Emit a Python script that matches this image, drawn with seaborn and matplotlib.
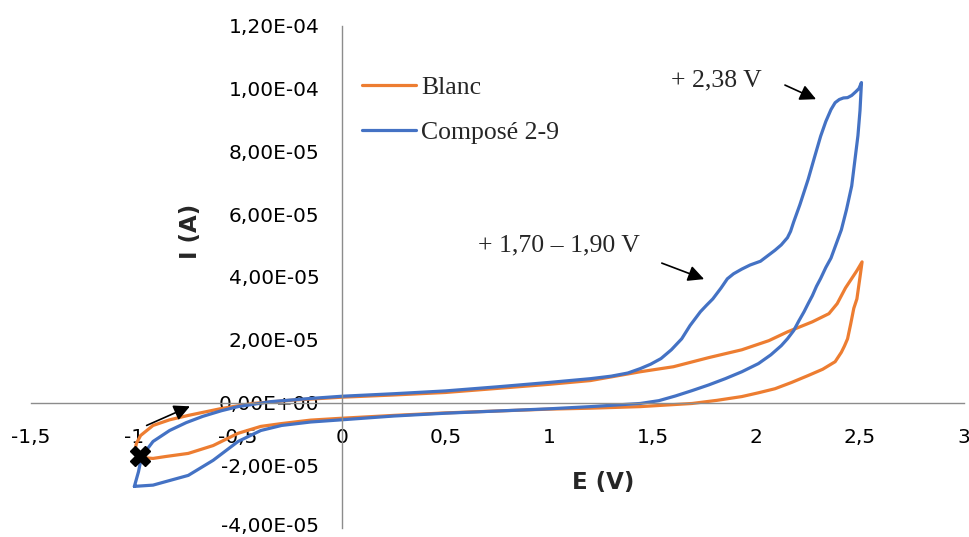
import matplotlib
matplotlib.use("Agg")
import matplotlib.pyplot as plt
from matplotlib.ticker import FuncFormatter, MultipleLocator
from matplotlib.transforms import ScaledTranslation
import pandas as pd
import seaborn as sns
import numpy as np

# cyclic voltammograms, I in units of 1e-5 A
blanc_E = [-1.0, -0.99, -0.97, -0.91, -0.83, -0.74, -0.58, -0.43, -0.25, 0.0, 0.25, 0.5, 0.75, 1.0, 1.2,
           1.44, 1.60, 1.77, 1.93, 2.06, 2.15, 2.27, 2.35, 2.39, 2.43, 2.46, 2.485, 2.51,
           2.50, 2.485, 2.47, 2.455, 2.44, 2.425, 2.41, 2.395, 2.38, 2.32, 2.25, 2.17, 2.09, 2.01, 1.93,
           1.81, 1.69, 1.44, 1.2, 1.0, 0.75, 0.5, 0.25, 0.0,
           -0.15, -0.29, -0.39, -0.5, -0.62, -0.74, -0.85, -0.91, -0.97]
blanc_I = [-1.6, -1.3, -1.05, -0.73, -0.55, -0.41, -0.19, -0.03, 0.07, 0.17, 0.24, 0.32, 0.45, 0.58, 0.7,
           0.98, 1.14, 1.43, 1.68, 1.97, 2.25, 2.57, 2.83, 3.15, 3.65, 3.95, 4.2, 4.48,
           4.0, 3.3, 3.0, 2.5, 2.03, 1.8, 1.6, 1.45, 1.3, 1.06, 0.86, 0.64, 0.44, 0.31, 0.19,
           0.07, -0.03, -0.13, -0.18, -0.21, -0.27, -0.33, -0.41, -0.5,
           -0.56, -0.67, -0.76, -0.98, -1.37, -1.62, -1.72, -1.78, -1.75]

compose_E = [-1.0, -0.98, -0.97, -0.94, -0.91, -0.83, -0.75, -0.67, -0.58, -0.5, -0.34, -0.15, 0.0, 0.25, 0.5,
             0.75, 1.0, 1.2, 1.3, 1.38, 1.44, 1.49, 1.54, 1.59, 1.64, 1.68, 1.73, 1.76, 1.79, 1.83, 1.86,
             1.89, 1.93, 1.97, 2.02, 2.05, 2.09, 2.12, 2.15, 2.165, 2.18, 2.21, 2.25, 2.28, 2.31, 2.335,
             2.36, 2.38, 2.40, 2.42, 2.44, 2.46, 2.48, 2.495, 2.507,
             2.50, 2.49, 2.475, 2.46, 2.435, 2.41, 2.385, 2.36, 2.335, 2.31, 2.29, 2.27, 2.25, 2.23,
             2.205, 2.18, 2.15, 2.12, 2.07, 2.01, 1.93, 1.85, 1.77, 1.69, 1.61, 1.53, 1.44, 1.2, 1.0,
             0.75, 0.5, 0.25, 0.0, -0.15, -0.29, -0.39, -0.5, -0.62, -0.74, -0.85, -0.91, -1.0]
compose_I = [-2.67, -2.2, -1.87, -1.5, -1.24, -0.89, -0.64, -0.44, -0.26, -0.13, 0.03, 0.13, 0.2, 0.28, 0.37,
             0.5, 0.64, 0.76, 0.84, 0.94, 1.08, 1.22, 1.4, 1.68, 2.03, 2.45, 2.89, 3.1, 3.3, 3.65, 3.94,
             4.1, 4.25, 4.38, 4.5, 4.65, 4.85, 5.02, 5.25, 5.45, 5.75, 6.3, 7.11, 7.8, 8.48, 8.95,
             9.33, 9.55, 9.65, 9.7, 9.71, 9.78, 9.9, 10.0, 10.19,
             9.3, 8.5, 7.7, 6.9, 6.15, 5.5, 5.05, 4.6, 4.3, 3.95, 3.7, 3.4, 3.15, 2.89,
             2.6, 2.29, 2.03, 1.81, 1.52, 1.24, 0.98, 0.76, 0.56, 0.38, 0.21, 0.06, -0.03, -0.13, -0.2,
             -0.27, -0.34, -0.43, -0.55, -0.62, -0.73, -0.89, -1.24, -1.84, -2.32, -2.52, -2.63, -2.67]

series_names = ["Blanc", "Composé 2-9"]
series_colors = ["#ED7D31", "#4472C4"]

start_E, start_I = -0.973, -1.71e-5

df = pd.concat([
    pd.DataFrame({"E": blanc_E, "I": np.array(blanc_I) * 1e-5, "serie": series_names[0]}),
    pd.DataFrame({"E": compose_E, "I": np.array(compose_I) * 1e-5, "serie": series_names[1]}),
], ignore_index=True)

sns.set_style("white")
plt.rcParams["font.family"] = ["DejaVu Sans"]

fig = plt.figure(figsize=(9.69, 5.37), dpi=100)
ax = fig.add_axes([0.0317, 0.0165, 0.9628, 0.9356])

sns.lineplot(data=df, x="E", y="I", hue="serie", palette=series_colors, sort=False,
             estimator=None, linewidth=2.3, ax=ax)
ax.plot(start_E, start_I, marker="X", color="black", markersize=15, linestyle="none", zorder=5)

ax.set_xlim(-1.5, 3)
ax.set_ylim(-4e-5, 1.2e-4)
ax.xaxis.set_major_locator(MultipleLocator(0.5))
ax.yaxis.set_major_locator(MultipleLocator(2e-5))
ax.xaxis.set_major_formatter(FuncFormatter(lambda v, p: f"{v:g}".replace(".", ",")))
ax.yaxis.set_major_formatter(FuncFormatter(lambda v, p: f"{v:.2E}".replace(".", ",")))

for s in ["top", "right"]:
    ax.spines[s].set_visible(False)
ax.spines["left"].set_position(("data", 0))
ax.spines["bottom"].set_position(("data", 0))
for s in ["left", "bottom"]:
    ax.spines[s].set_color("#8c8c8c")
    ax.spines[s].set_linewidth(1)
ax.tick_params(axis="both", direction="out", length=6, width=1, color="#8c8c8c",
               labelsize=14.5, labelcolor="black")
ax.tick_params(axis="x", pad=12)
ax.tick_params(axis="y", pad=10)
ax.set_xlabel("")
ax.set_ylabel("")

fig.text(603 / 969, 1 - 483 / 537, "E (V)", fontsize=16.5, fontweight="bold", ha="center", va="center")
fig.text(190 / 969, 1 - 231 / 537, "I (A)", fontsize=16.5, fontweight="bold", ha="center", va="center",
         rotation=90)

handles, labels = ax.get_legend_handles_labels()
ax.legend(handles, labels, loc="upper left", bbox_to_anchor=(362 / 969, 1 - 76 / 537),
          bbox_transform=fig.transFigure, frameon=False, handlelength=2.1, handletextpad=0.2,
          labelspacing=0.86, borderaxespad=0, borderpad=0,
          prop={"family": "Liberation Serif", "size": 18.5})

arrow = dict(arrowstyle="-|>", color="black", lw=1.2, mutation_scale=24, shrinkA=0, shrinkB=0)
ax.annotate("", xy=(2.288, 9.66e-5), xytext=(2.138, 10.11e-5), arrowprops=arrow)
ax.annotate("", xy=(1.748, 3.93e-5), xytext=(1.544, 4.44e-5), arrowprops=arrow)
ax.annotate("", xy=(-0.732, -0.12e-5), xytext=(-0.941, -0.73e-5), arrowprops=arrow)

fig.text(716 / 969, 1 - 80 / 537, "+ 2,38 V", fontsize=18.5, family="Liberation Serif",
         ha="center", va="center")
fig.text(559 / 969, 1 - 245 / 537, "+ 1,70 – 1,90 V", fontsize=18.5, family="Liberation Serif",
         ha="center", va="center")

# keep the lowest y label inside the canvas
fig.canvas.draw()
for lbl in ax.get_yticklabels():
    if lbl.get_text().startswith("-4"):
        lbl.set_transform(lbl.get_transform() + ScaledTranslation(0, 2.5 / 72, fig.dpi_scale_trans))

fig.savefig("out.png", dpi=100)
